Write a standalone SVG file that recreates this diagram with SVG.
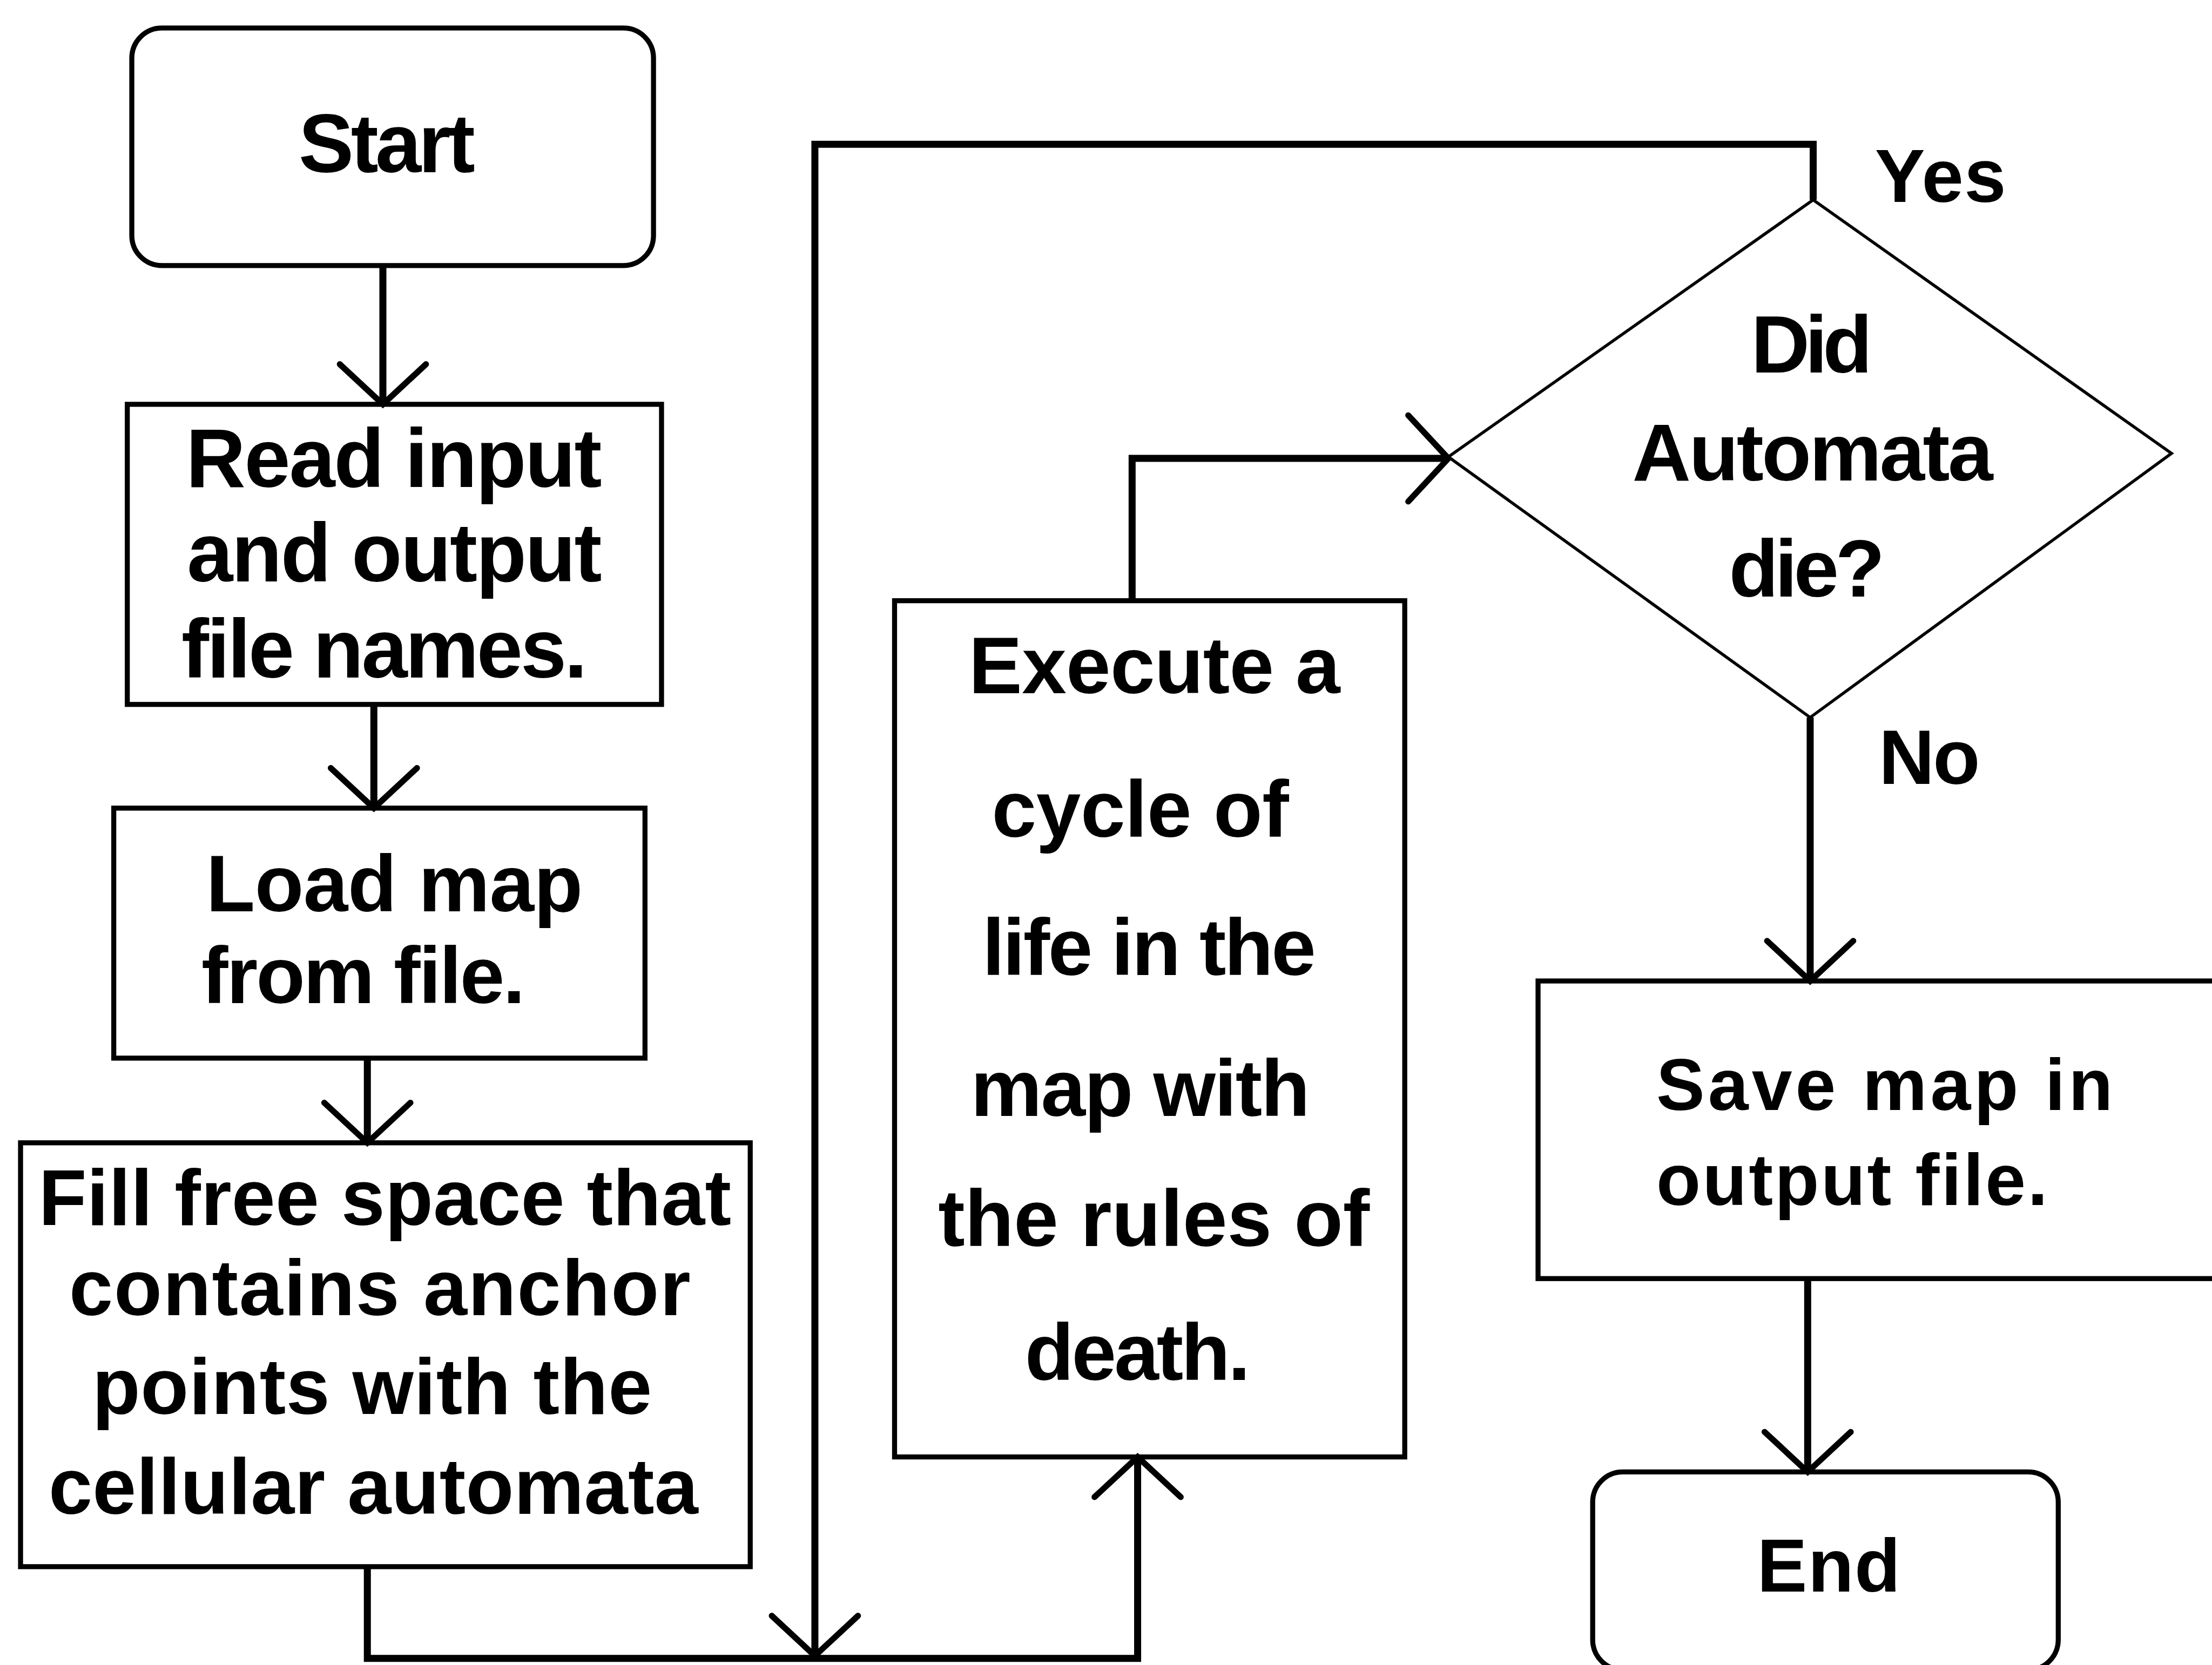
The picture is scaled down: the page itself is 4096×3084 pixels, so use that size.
<svg xmlns="http://www.w3.org/2000/svg" width="4096" height="3084" viewBox="0 0 4096 3084">
<style>
.box{fill:#fff;stroke:#000;stroke-width:10}
.dia{fill:#fff;stroke:#000;stroke-width:6}
.conn{fill:none;stroke:#000;stroke-width:14;stroke-linejoin:miter}
text{font-family:"Liberation Sans",Arial,sans-serif;font-weight:bold;fill:#000}
</style>
<defs>
<marker id="arr" markerUnits="userSpaceOnUse" orient="auto" refX="0" refY="0" markerWidth="200" markerHeight="200" viewBox="-100 -100 200 200" overflow="visible">
<path d="M -80 -86 L 0 0 L -80 86" fill="none" stroke="#000" stroke-width="12" stroke-linecap="round"/>
</marker>
</defs>
<rect x="0" y="0" width="4096" height="3084" fill="#fff"/>
<g transform="scale(0.928)">
<g id="start">
<rect class="box" x="263" y="56" width="1041" height="474" rx="60" ry="60"/>
<text x="596" y="344" font-size="165" textLength="352">Start</text>
</g>
<g id="read">
<rect class="box" x="254" y="807" width="1066" height="599"/>
<text x="371" y="972" font-size="165" textLength="830">Read input</text>
<text x="373" y="1161" font-size="165" textLength="828">and output</text>
<text x="362" y="1352" font-size="165" textLength="810">file names.</text>
</g>
<g id="load">
<rect class="box" x="227" y="1613" width="1060" height="499"/>
<text x="411" y="1819" font-size="160" textLength="752">Load map</text>
<text x="402" y="2002" font-size="160" textLength="646">from file.</text>
</g>
<g id="fill">
<rect class="box" x="41" y="2281" width="1456" height="846"/>
<text x="77" y="2445" font-size="157" textLength="1382">Fill free space that</text>
<text x="138" y="2625" font-size="157" textLength="1240">contains anchor</text>
<text x="184" y="2822" font-size="157" textLength="1117">points with the</text>
<text x="97" y="3022" font-size="157" textLength="1296">cellular automata</text>
</g>
<g id="execute">
<rect class="box" x="1785" y="1199" width="1018" height="1709"/>
<text x="1933" y="1384" font-size="160" textLength="741">Execute a</text>
<text x="1979" y="1670" font-size="160" textLength="593">cycle of</text>
<text x="1960" y="1946" font-size="160" textLength="666">life in the</text>
<text x="1937" y="2227" font-size="160" textLength="677">map with</text>
<text x="1872" y="2487" font-size="160" textLength="861">the rules of</text>
<text x="2045" y="2754" font-size="160" textLength="450">death.</text>
</g>
<g id="decision">
<polygon class="dia" points="3618,399 4333,905 3612,1432 2890,912"/>
<text x="3494" y="743" font-size="162" textLength="242">Did</text>
<text x="3257" y="959" font-size="162" textLength="720">Automata</text>
<text x="3450" y="1191" font-size="162" textLength="311">die?</text>
</g>
<g id="save">
<rect class="box" x="3069" y="1958" width="1370" height="594"/>
<text x="3305" y="2215" font-size="145" textLength="911">Save map in</text>
<text x="3305" y="2405" font-size="145" textLength="781">output file.</text>
</g>
<g id="end">
<rect class="box" x="3178" y="2938" width="929" height="395" rx="60" ry="60"/>
<text x="3506" y="3177" font-size="150" textLength="286">End</text>
</g>
<g id="connectors">
<path class="conn" d="M 764 530 L 764 807" marker-end="url(#arr)"/>
<path class="conn" d="M 746 1406 L 746 1613" marker-end="url(#arr)"/>
<path class="conn" d="M 733 2112 L 733 2281" marker-end="url(#arr)"/>
<path class="conn" d="M 733 3127 L 733 3310 L 2270 3310 L 2270 2908" marker-end="url(#arr)"/>
<path class="conn" d="M 3618 399 L 3618 288 L 1626 288 L 1626 3305" marker-end="url(#arr)"/>
<path class="conn" d="M 2259 1199 L 2259 915 L 2890 915" marker-end="url(#arr)"/>
<path class="conn" d="M 3612 1432 L 3612 1958" marker-end="url(#arr)"/>
<path class="conn" d="M 3607 2552 L 3607 2938" marker-end="url(#arr)"/>
<text x="3741" y="403" font-size="150" textLength="262">Yes</text>
<text x="3749" y="1565" font-size="154" textLength="202">No</text>
</g>
</g>
</svg>
